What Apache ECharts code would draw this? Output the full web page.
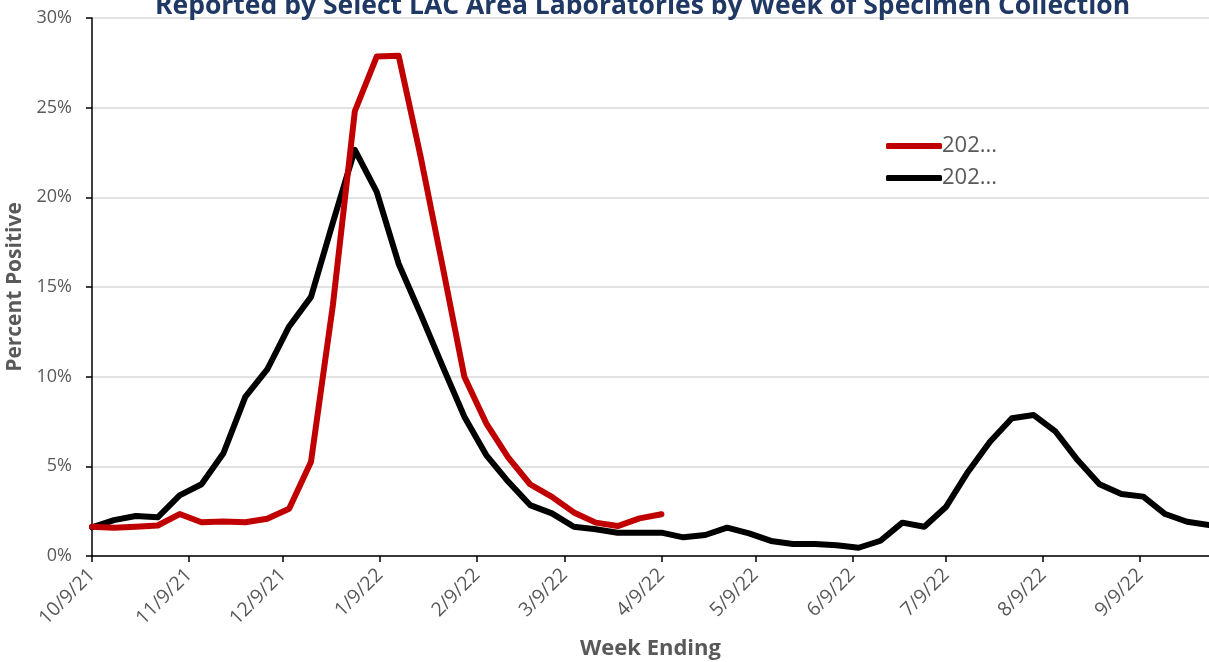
<!DOCTYPE html>
<html>
<head>
<meta charset="utf-8">
<script src="https://cdn.jsdelivr.net/npm/echarts@6/dist/echarts.min.js"></script>
<style>
    html, body { margin: 0; padding: 0; background: #fff; }
    #chart { width: 1209px; height: 662px; }
</style>
</head>
<body>
<div id="chart"></div>
<script>
// first week ending date, weeks follow every 7 days
const firstWeek = [2021, 10, 9]
const lastWeek = [2022, 10, 1]

// tick labels on the date axis
const tickLabels = ['10/9/21', '11/9/21', '12/9/21', '1/9/22', '2/9/22', '3/9/22',
    '4/9/22', '5/9/22', '6/9/22', '7/9/22', '8/9/22', '9/9/22']

// percent positive, red series (weekly from 10/9/21)
const redValues = [1.63, 1.58, 1.63, 1.7, 2.34, 1.88, 1.93, 1.88, 2.08, 2.64,
    5.26, 14.0, 24.8, 27.85, 27.9, 22.3, 16.2, 10.0, 7.4, 5.5,
    4.0, 3.3, 2.43, 1.86, 1.67, 2.1, 2.33]

// percent positive, black series (weekly from 10/9/21)
const blackValues = [1.6, 2.0, 2.23, 2.16, 3.38, 4.0, 5.73, 8.87, 10.4, 12.8,
    14.45, 18.6, 22.65, 20.3, 16.3, 13.5, 10.6, 7.77, 5.63, 4.15,
    2.84, 2.38, 1.63, 1.49, 1.3, 1.3, 1.3, 1.04, 1.17, 1.58,
    1.26, 0.84, 0.67, 0.67, 0.6, 0.46, 0.85, 1.86, 1.63, 2.75,
    4.7, 6.37, 7.68, 7.86, 6.93, 5.35, 4.0, 3.46, 3.31, 2.34,
    1.91, 1.73]

const DAY = 24 * 3600 * 1000
const start = Date.UTC(firstWeek[0], firstWeek[1] - 1, firstWeek[2])
const end = Date.UTC(lastWeek[0], lastWeek[1] - 1, lastWeek[2])

// x axis runs in days since the first week ending
function parseLabel(s) {
    const p = s.split('/').map(Number)
    return Math.round((Date.UTC(2000 + p[2], p[0] - 1, p[1]) - start) / DAY)
}

const tickValues = tickLabels.map(parseLabel)
const labelByDay = {}
tickValues.forEach((d, i) => { labelByDay[d] = tickLabels[i] })

const GRAY = '#595959'
const FONT = '"Open Sans", "Liberation Sans", sans-serif'

const chart = echarts.init(document.getElementById('chart'))

const option = {
    animation: false,
    textStyle: { fontFamily: FONT },
    title: {
        text: 'Reported by Select LAC Area Laboratories by Week of Specimen Collection',
        left: 150,
        top: -12,
        textStyle: {
            color: '#1F3864',
            fontSize: 26.5,
            fontWeight: 'bold',
            fontFamily: FONT
        }
    },
    legend: {
        orient: 'vertical',
        left: 881,
        top: 130,
        itemWidth: 56,
        itemHeight: 6,
        itemGap: 10,
        icon: 'roundRect',
        formatter: () => '202...',
        textStyle: { color: GRAY, fontSize: 22, padding: [0, 0, 0, -5] },
        data: ['red', 'black']
    },
    grid: {
        left: 92,
        right: 0,
        top: 18,
        bottom: 106,
        containLabel: false,
        outerBoundsMode: 'none'
    },
    xAxis: {
        type: 'value',
        min: 0,
        max: Math.round((end - start) / DAY),
        name: 'Week Ending',
        nameLocation: 'middle',
        nameGap: 82,
        nameTextStyle: { color: GRAY, fontSize: 22, fontWeight: 'bold' },
        axisLine: { lineStyle: { color: '#000', width: 1.5 } },
        axisTick: {
            show: true,
            length: 6,
            customValues: tickValues,
            lineStyle: { color: '#000', width: 1.5 }
        },
        axisLabel: {
            customValues: tickValues,
            rotate: 45,
            color: GRAY,
            fontSize: 19.5,
            margin: 16,
            formatter: (v) => labelByDay[Math.round(v)] || ''
        },
        splitLine: { show: false }
    },
    yAxis: {
        type: 'value',
        min: 0,
        max: 30,
        interval: 5,
        name: 'Percent Positive',
        nameLocation: 'middle',
        nameGap: 62,
        nameTextStyle: { color: GRAY, fontSize: 21, fontWeight: 'bold' },
        axisLine: { show: true, lineStyle: { color: '#000', width: 1.5 } },
        axisTick: { show: true, length: 6, lineStyle: { color: '#000', width: 1.5 } },
        axisLabel: { color: GRAY, fontSize: 18, margin: 20, formatter: '{value}%' },
        splitLine: { lineStyle: { color: '#d9d9d9', width: 1.5 } }
    },
    series: [
        {
            name: 'red',
            type: 'line',
            symbol: 'none',
            color: '#C00000',
            lineStyle: { width: 6, cap: 'round', join: 'round' },
            z: 3,
            data: redValues.map((v, i) => [i * 7, v])
        },
        {
            name: 'black',
            type: 'line',
            symbol: 'none',
            color: '#000000',
            lineStyle: { width: 6, cap: 'round', join: 'round' },
            z: 2,
            data: blackValues.map((v, i) => [i * 7, v])
        }
    ]
}

chart.setOption(option)
</script>
</body>
</html>
